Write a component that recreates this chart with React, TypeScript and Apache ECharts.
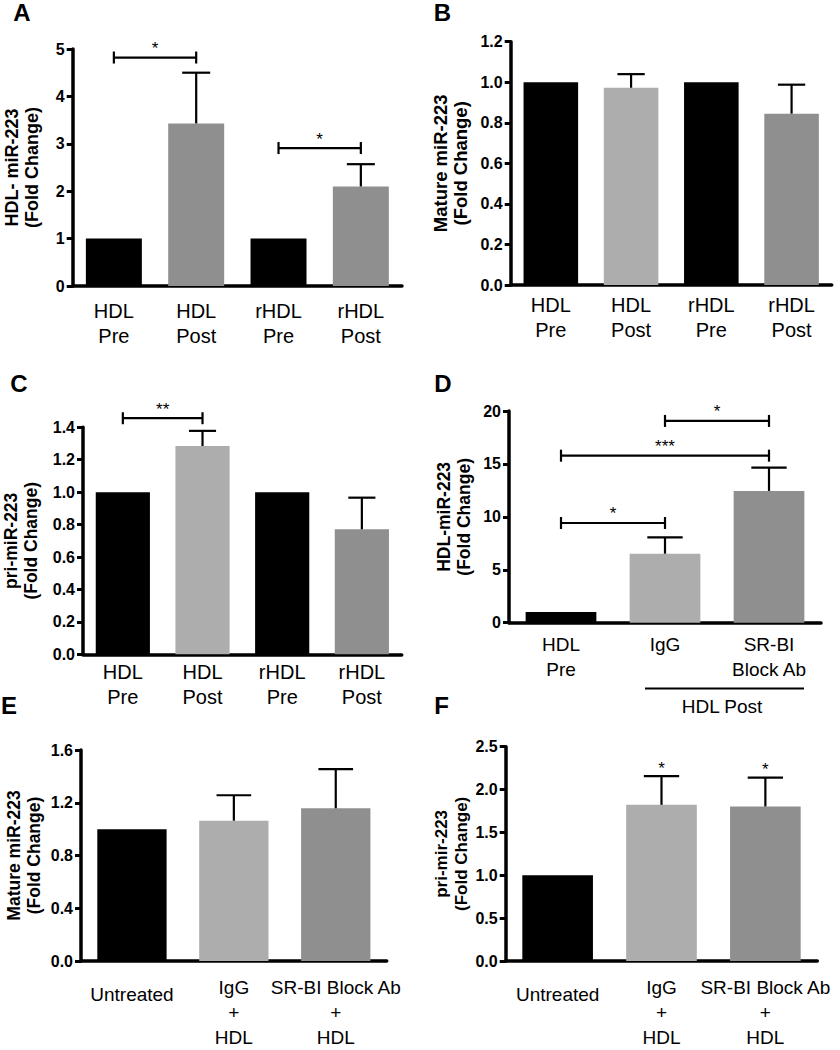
import React, { useEffect, useRef } from 'react';
import * as echarts from 'echarts';

const BLACK = '#000000';
const LIGHT = '#adadad';
const DARK = '#8f8f8f';
const FONT = '"Liberation Sans", Arial, Helvetica, sans-serif';

// ---- Panel A ----
const catsA = ['HDL\nPre', 'HDL\nPost', 'rHDL\nPre', 'rHDL\nPost'];
const valsA = [1, 3.43, 1, 2.1];
const errA = [0, 1.07, 0, 0.47];
const colorsA = [BLACK, DARK, BLACK, DARK];
const sigA = [
  { from: 0, to: 1, y: 4.82, text: '*' },
  { from: 2, to: 3, y: 2.91, text: '*' },
];

// ---- Panel B ----
const catsB = ['HDL\nPre', 'HDL\nPost', 'rHDL\nPre', 'rHDL\nPost'];
const valsB = [1, 0.973, 1, 0.845];
const errB = [0, 0.067, 0, 0.143];
const colorsB = [BLACK, LIGHT, BLACK, DARK];

// ---- Panel C ----
const catsC = ['HDL\nPre', 'HDL\nPost', 'rHDL\nPre', 'rHDL\nPost'];
const valsC = [1, 1.285, 1, 0.771];
const errC = [0, 0.093, 0, 0.195];
const colorsC = [BLACK, LIGHT, BLACK, DARK];
const sigC = [{ from: 0, to: 1, y: 1.456, text: '**' }];

// ---- Panel D ----
const catsD = ['HDL\nPre', 'IgG', 'SR-BI\nBlock Ab'];
const valsD = [1, 6.52, 12.45];
const errD = [0, 1.55, 2.2];
const colorsD = [BLACK, LIGHT, DARK];
const sigD = [
  { from: 1, to: 2, y: 19.06, text: '*' },
  { from: 0, to: 2, y: 15.78, text: '***' },
  { from: 0, to: 1, y: 9.42, text: '*' },
];

// ---- Panel E ----
const catsE = ['Untreated', 'IgG\n+\nHDL', 'SR-BI Block Ab\n+\nHDL'];
const valsE = [1, 1.064, 1.158];
const errE = [0, 0.193, 0.297];
const colorsE = [BLACK, LIGHT, DARK];

// ---- Panel F ----
const catsF = ['Untreated', 'IgG\n+\nHDL', 'SR-BI Block Ab\n+\nHDL'];
const valsF = [1, 1.822, 1.803];
const errF = [0, 0.334, 0.337];
const colorsF = [BLACK, LIGHT, DARK];
const starsF = ['', '*', '*'];

type Sig = { from: number; to: number; y: number; text: string };
type Panel = {
  cats: string[]; vals: number[]; err: number[]; colors: string[];
  sig: Sig[]; stars: string[] | null; yName: string; max: number; interval: number; dec: number;
  grid: { left: number; top: number; width: number; height: number };
  nameGap: number; nameSize: number; labelSize: number; labelMargin: number; untreatedPad: boolean;
};

const panels: Panel[] = [
  { cats: catsA, vals: valsA, err: errA, colors: colorsA, sig: sigA, stars: null,
    yName: 'HDL- miR-223\n(Fold Change)', max: 5, interval: 1, dec: 0,
    grid: { left: 72.7, top: 49, width: 329.3, height: 237 },
    nameGap: 31, nameSize: 18, labelSize: 20, labelMargin: 12, untreatedPad: false },
  { cats: catsB, vals: valsB, err: errB, colors: colorsB, sig: [], stars: null,
    yName: 'Mature miR-223\n(Fold Change)', max: 1.2, interval: 0.2, dec: 1,
    grid: { left: 510.7, top: 41.7, width: 321, height: 243.3 },
    nameGap: 40, nameSize: 18.5, labelSize: 20, labelMargin: 7, untreatedPad: false },
  { cats: catsC, vals: valsC, err: errC, colors: colorsC, sig: sigC, stars: null,
    yName: 'pri-miR-223\n(Fold Change)', max: 1.4, interval: 0.2, dec: 1,
    grid: { left: 82.3, top: 427.3, width: 319.4, height: 227 },
    nameGap: 42, nameSize: 17.5, labelSize: 20, labelMargin: 5, untreatedPad: false },
  { cats: catsD, vals: valsD, err: errD, colors: colorsD, sig: sigD, stars: null,
    yName: 'HDL-miR-223\n(Fold Change)', max: 20, interval: 5, dec: 0,
    grid: { left: 509, top: 411, width: 312, height: 211.7 },
    nameGap: 35, nameSize: 17.5, labelSize: 19, labelMargin: 9, untreatedPad: false },
  { cats: catsE, vals: valsE, err: errE, colors: colorsE, sig: [], stars: null,
    yName: 'Mature miR-223\n(Fold Change)', max: 1.6, interval: 0.4, dec: 1,
    grid: { left: 81, top: 750, width: 305.7, height: 220.7 },
    nameGap: 37.5, nameSize: 17.5, labelSize: 19, labelMargin: 14, untreatedPad: true },
  { cats: catsF, vals: valsF, err: errF, colors: colorsF, sig: [], stars: starsF,
    yName: 'pri-mir-223\n(Fold Change)', max: 2.5, interval: 0.5, dec: 1,
    grid: { left: 505.7, top: 746.7, width: 311.6, height: 222.3 },
    nameGap: 31, nameSize: 17, labelSize: 19, labelMargin: 14, untreatedPad: true },
];

const letters = [
  { t: 'A', x: 22, y: 0 },
  { t: 'B', x: 442.5, y: 0 },
  { t: 'C', x: 19, y: 371.5 },
  { t: 'D', x: 443, y: 371.5 },
  { t: 'E', x: 9, y: 693.5 },
  { t: 'F', x: 441.5, y: 693.5 },
];

function buildOption() {
  const grid: any[] = [];
  const xAxis: any[] = [];
  const yAxis: any[] = [];
  const series: any[] = [];

  panels.forEach((p, i) => {
    grid.push({ ...p.grid, containLabel: false });
    xAxis.push({
      gridIndex: i,
      type: 'category',
      data: p.cats,
      axisLine: { show: true, lineStyle: { color: '#000', width: 3.5 } },
      axisTick: { show: false },
      axisLabel: {
        interval: 0,
        color: '#000',
        fontSize: p.labelSize,
        fontFamily: FONT,
        lineHeight: 25,
        margin: p.labelMargin,
        formatter: (v: string, idx: number) => (p.untreatedPad && idx === 0 ? `{u|${v}}` : v),
        rich: {
          u: { padding: [13, 0, 0, 0], fontSize: p.labelSize, fontFamily: FONT, color: '#000', lineHeight: 25 },
        },
      },
    });
    yAxis.push({
      gridIndex: i,
      type: 'value',
      min: 0,
      max: p.max,
      interval: p.interval,
      splitLine: { show: false },
      axisLine: { show: true, lineStyle: { color: '#000', width: 3.5 } },
      axisTick: { show: true, length: 6, lineStyle: { color: '#000', width: 3 } },
      axisLabel: {
        color: '#000', fontSize: 16, fontWeight: 'bold', fontFamily: FONT, margin: 8,
        formatter: (v: number) => v.toFixed(p.dec),
      },
      name: p.yName,
      nameLocation: 'middle',
      nameRotate: 90,
      nameGap: p.nameGap,
      nameTextStyle: { color: '#000', fontSize: p.nameSize, fontWeight: 'bold', fontFamily: FONT, lineHeight: 20, align: 'center' },
    });

    series.push({
      type: 'bar',
      xAxisIndex: i,
      yAxisIndex: i,
      barWidth: '68%',
      silent: true,
      data: p.vals.map((v, j) => ({ value: v, itemStyle: { color: p.colors[j] } })),
    });

    const stars = p.stars;
    series.push({
      type: 'custom',
      xAxisIndex: i,
      yAxisIndex: i,
      z: 5,
      silent: true,
      encode: { x: 0, y: 1 },
      data: p.vals.map((v, j) => [j, v, v + p.err[j], p.err[j]]),
      renderItem: (params: any, api: any) => {
        const idx = api.value(0);
        const v = api.value(1);
        const top = api.value(2);
        const e = api.value(3);
        const band = api.coord([1, 0])[0] - api.coord([0, 0])[0];
        const p0 = api.coord([idx, v]);
        const p1 = api.coord([idx, top]);
        const children: any[] = [];
        if (e > 0) {
          const hw = band * 0.17;
          children.push({ type: 'line', shape: { x1: p0[0], y1: p0[1], x2: p1[0], y2: p1[1] }, style: { stroke: '#000', lineWidth: 2.2 } });
          children.push({ type: 'line', shape: { x1: p1[0] - hw, y1: p1[1], x2: p1[0] + hw, y2: p1[1] }, style: { stroke: '#000', lineWidth: 2.2 } });
        }
        const st = stars ? stars[params.dataIndex] : '';
        if (st) {
          children.push({ type: 'text', style: { text: st, x: p1[0], y: p1[1] - 8, align: 'center', verticalAlign: 'middle', fill: '#000', fontSize: 17, fontFamily: FONT } });
        }
        return { type: 'group', children };
      },
    });

    if (p.sig.length) {
      const sig = p.sig;
      series.push({
        type: 'custom',
        xAxisIndex: i,
        yAxisIndex: i,
        z: 6,
        silent: true,
        clip: false,
        encode: { x: [0, 1], y: 2 },
        data: sig.map((s) => [s.from, s.to, s.y]),
        renderItem: (params: any, api: any) => {
          const a = api.coord([api.value(0), api.value(2)]);
          const b = api.coord([api.value(1), api.value(2)]);
          const st = { stroke: '#000', lineWidth: 2.2 };
          return {
            type: 'group',
            children: [
              { type: 'line', shape: { x1: a[0], y1: a[1], x2: b[0], y2: b[1] }, style: st },
              { type: 'line', shape: { x1: a[0], y1: a[1] - 6, x2: a[0], y2: a[1] + 6 }, style: st },
              { type: 'line', shape: { x1: b[0], y1: b[1] - 6, x2: b[0], y2: b[1] + 6 }, style: st },
              { type: 'text', style: { text: sig[params.dataIndex].text, x: (a[0] + b[0]) / 2, y: a[1] - 9, align: 'center', verticalAlign: 'middle', fill: '#000', fontSize: 17, fontFamily: FONT } },
            ],
          };
        },
      });
    }
  });

  const graphic: any[] = letters.map((l) => ({
    type: 'text',
    x: l.x,
    y: l.y,
    style: { text: l.t, fill: '#000', fontSize: 24, fontWeight: 'bold', fontFamily: FONT, align: 'center', verticalAlign: 'top' },
  }));
  graphic.push({ type: 'line', shape: { x1: 645, y1: 688.5, x2: 804, y2: 688.5 }, style: { stroke: '#000', lineWidth: 2 } });
  graphic.push({
    type: 'text', x: 722, y: 706,
    style: { text: 'HDL Post', fill: '#000', fontSize: 19, fontFamily: FONT, align: 'center', verticalAlign: 'middle' },
  });

  return {
    animation: false,
    backgroundColor: '#ffffff',
    grid,
    xAxis,
    yAxis,
    series,
    graphic,
  };
}

export default function App() {
  const ref = useRef<HTMLDivElement>(null);
  useEffect(() => {
    if (!ref.current) return;
    const chart = echarts.init(ref.current, null, { renderer: 'svg' });
    chart.setOption(buildOption() as any);
    return () => chart.dispose();
  }, []);
  return (
    <div
      ref={ref}
      style={{ position: 'absolute', left: 0, top: 0, width: 840, height: 1050, background: '#fff' }}
    />
  );
}
